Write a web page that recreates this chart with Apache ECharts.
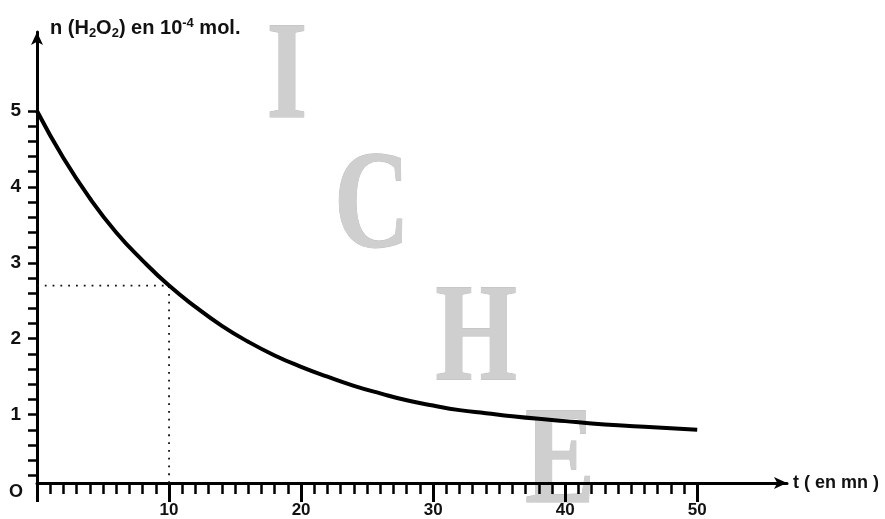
<!DOCTYPE html>
<html>
<head>
<meta charset="utf-8">
<script src="https://cdn.jsdelivr.net/npm/echarts@6/dist/echarts.min.js"></script>
<style>html,body{margin:0;padding:0;background:#fff}#c{width:885px;height:519px}</style>
</head>
<body>
<div id="c"></div>
<script>
// Data
var times = [0, 2, 4, 6, 8, 10, 12, 14, 16, 18, 20, 22, 24, 26, 28, 30, 32, 34, 36, 38, 40, 42, 44, 46, 48, 50];
var amounts = [5.0, 4.38, 3.85, 3.40, 3.03, 2.70, 2.42, 2.17, 1.96, 1.78, 1.63, 1.50, 1.38, 1.28, 1.19, 1.12, 1.06, 1.02, 0.98, 0.945, 0.915, 0.885, 0.86, 0.84, 0.82, 0.80];
var readT = 10;
var readN = 2.7;
var xMajorTicks = [0, 10, 20, 30, 40, 50];
var xLabels = [10, 20, 30, 40, 50];
var xMinorTicks = [];
for (var i = 1; i <= 50; i++) xMinorTicks.push(i);
var yTicks = [];
for (var j = 1; j <= 25; j++) yTicks.push(+(j * 0.2).toFixed(1));
var yLabels = [1, 2, 3, 4, 5];
var watermark = ['I', 'C', 'H', 'E'];

var curve = times.map(function (t, k) { return [t, amounts[k]]; });
var guide = [[0, readN], [readT, readN], [readT, 0.1]];

var chart = echarts.init(document.getElementById('c'));
var font = 'Liberation Sans, Arial, sans-serif';
var wmPos = [[287, 81], [372, 211], [476, 343], [560, 466]];

chart.setOption({
  animation: false,
  backgroundColor: '#fff',
  title: {
    left: 45, top: 12,
    text: 'n (H{sub|2}O{sub|2}) en 10{sup|-4} mol.',
    textStyle: {
      fontFamily: font, fontWeight: 'bold', fontSize: 20, color: '#111',
      rich: {
        sub: { fontFamily: font, fontWeight: 'bold', fontSize: 13, verticalAlign: 'bottom', padding: [8, 0, 0, 0], color: '#111' },
        sup: { fontFamily: font, fontWeight: 'bold', fontSize: 13, verticalAlign: 'top', padding: [0, 0, 10, 0], color: '#111' }
      }
    }
  },
  graphic: watermark.map(function (ch, k) {
    return {
      type: 'text', x: wmPos[k][0], y: wmPos[k][1], scaleX: 0.75, z: -10, silent: true,
      style: { text: ch, font: 'bold 140px "Liberation Serif", serif', fill: '#cfcfcf', stroke: '#bdbdbd', lineWidth: 1, align: 'center', verticalAlign: 'middle' }
    };
  }).concat([{
    type: 'text', left: 9, top: 483,
    style: { text: 'O', font: 'bold 18px ' + font, fill: '#111' }
  }]),
  grid: { left: 37, right: 98, top: 32, bottom: 34 },
  xAxis: [{
    type: 'value', min: 0, max: 56.8, position: 'bottom',
    name: 't ( en mn )', nameLocation: 'end', nameGap: 6,
    nameTextStyle: { fontFamily: font, fontWeight: 'bold', fontSize: 18, color: '#111', verticalAlign: 'middle' },
    axisLine: { onZero: false, show: true, symbol: ['none', 'arrow'], symbolSize: [9, 13], lineStyle: { color: '#000', width: 3 } },
    axisTick: { show: true, customValues: xMinorTicks, length: 11, lineStyle: { color: '#000', width: 2.5 } },
    axisLabel: { show: false },
    splitLine: { show: false }
  }, {
    type: 'value', min: 0, max: 56.8, position: 'bottom',
    axisLine: { show: false, onZero: false },
    axisTick: { show: true, customValues: xMajorTicks, length: 19, lineStyle: { color: '#000', width: 3 } },
    axisLabel: { show: true, customValues: xLabels, margin: 19, fontFamily: font, fontWeight: 'bold', fontSize: 17, color: '#111' },
    splitLine: { show: false }
  }],
  yAxis: {
    type: 'value', min: 0.1, max: 6.04,
    axisLine: { show: true, onZero: false, symbol: ['none', 'arrow'], symbolSize: [9, 13], lineStyle: { color: '#000', width: 3 } },
    axisTick: { show: true, customValues: yTicks, length: 9, lineStyle: { color: '#000', width: 2.5 } },
    axisLabel: { show: true, customValues: yLabels, margin: 16, fontFamily: font, fontWeight: 'bold', fontSize: 19, color: '#111' },
    splitLine: { show: false }
  },
  series: [{
    type: 'line', data: guide, xAxisIndex: 0, showSymbol: false, z: 2,
    lineStyle: { color: '#111', width: 1.8, type: [1.8, 6] }
  }, {
    type: 'line', data: curve, xAxisIndex: 0, smooth: true, showSymbol: false, z: 3,
    lineStyle: { color: '#000', width: 4 }
  }]
});
</script>
</body>
</html>
